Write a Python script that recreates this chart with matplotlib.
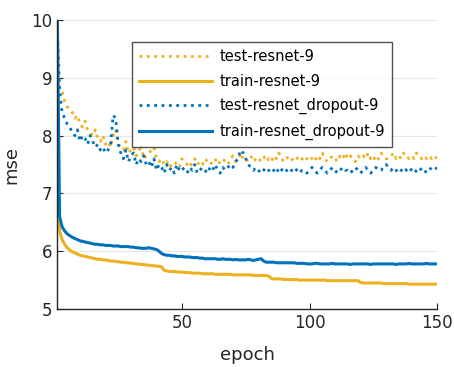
import numpy as np
import matplotlib.pyplot as plt

epochs = np.arange(1, 151)

test_resnet = [
    9.5, 8.8, 8.75, 8.6, 8.5, 8.45, 8.4, 8.3, 8.35, 8.2,
    8.15, 8.25, 8.1, 8.05, 8.0, 8.1, 7.95, 7.9, 8.0, 7.85,
    7.9, 7.8, 8.0, 8.1, 7.85, 7.8, 7.75, 7.9, 7.7, 7.75,
    7.8, 7.65, 7.7, 7.85, 7.6, 7.65, 7.7, 7.75, 7.8, 7.6,
    7.55, 7.6, 7.5, 7.55, 7.45, 7.5, 7.55, 7.5, 7.45, 7.6,
    7.55, 7.5, 7.45, 7.55, 7.6, 7.5, 7.55, 7.5, 7.6, 7.55,
    7.5, 7.55, 7.6, 7.5, 7.55, 7.6, 7.55, 7.5, 7.6, 7.65,
    7.55, 7.6, 7.7, 7.6, 7.55, 7.6, 7.65, 7.55, 7.6, 7.55,
    7.6, 7.65, 7.55, 7.6, 7.55, 7.65, 7.6, 7.7, 7.6, 7.55,
    7.6, 7.65, 7.6, 7.55, 7.6, 7.65, 7.6, 7.55, 7.6, 7.65,
    7.6, 7.55, 7.65, 7.6, 7.7, 7.6, 7.55, 7.6, 7.65, 7.6,
    7.55, 7.65, 7.6, 7.7, 7.6, 7.65, 7.6, 7.55, 7.65, 7.6,
    7.65, 7.6, 7.7, 7.6, 7.65, 7.55, 7.6, 7.7, 7.65, 7.6,
    7.6, 7.65, 7.7, 7.6, 7.65, 7.6, 7.7, 7.65, 7.6, 7.65,
    7.6, 7.7, 7.65, 7.6, 7.65, 7.6, 7.65, 7.6, 7.65, 7.6,
]

train_resnet = [
    6.9, 6.35, 6.2, 6.12, 6.06, 6.02, 5.99, 5.97, 5.95, 5.93,
    5.92, 5.91, 5.9, 5.89, 5.88, 5.87, 5.86, 5.86, 5.85, 5.85,
    5.84, 5.83, 5.83, 5.82, 5.82, 5.81, 5.81, 5.8, 5.8, 5.79,
    5.79, 5.78, 5.78, 5.77, 5.77, 5.76, 5.76, 5.75, 5.75, 5.74,
    5.74, 5.73, 5.67, 5.66, 5.65, 5.65, 5.65, 5.64, 5.64, 5.64,
    5.63, 5.63, 5.63, 5.62, 5.62, 5.62, 5.62, 5.61, 5.61, 5.61,
    5.61, 5.61, 5.6, 5.6, 5.6, 5.6, 5.6, 5.6, 5.6, 5.59,
    5.59, 5.59, 5.59, 5.59, 5.59, 5.59, 5.59, 5.58, 5.58, 5.58,
    5.58, 5.58, 5.58, 5.57, 5.53, 5.52, 5.52, 5.52, 5.52, 5.51,
    5.51, 5.51, 5.51, 5.51, 5.51, 5.5, 5.5, 5.5, 5.5, 5.5,
    5.5, 5.5, 5.5, 5.5, 5.5, 5.5, 5.49, 5.49, 5.49, 5.49,
    5.49, 5.49, 5.49, 5.49, 5.49, 5.49, 5.49, 5.49, 5.49, 5.46,
    5.45, 5.45, 5.45, 5.45, 5.45, 5.45, 5.45, 5.45, 5.44, 5.44,
    5.44, 5.44, 5.44, 5.44, 5.44, 5.44, 5.44, 5.44, 5.43, 5.43,
    5.43, 5.43, 5.43, 5.43, 5.43, 5.43, 5.43, 5.43, 5.43, 5.43,
]

test_dropout = [
    10.0, 8.8, 8.4, 8.3, 8.2, 8.15, 8.05, 8.0, 8.1, 7.9,
    8.0, 7.95, 7.85, 8.0, 7.9, 7.8, 7.85, 7.75, 7.8, 7.7,
    7.75, 7.85, 8.35, 8.3, 7.85, 7.7, 7.6, 7.75, 7.55, 7.65,
    7.7, 7.5, 7.6, 7.55, 7.65, 7.5, 7.55, 7.45, 7.6, 7.4,
    7.5, 7.45, 7.35, 7.5, 7.4, 7.45, 7.35, 7.5, 7.4, 7.45,
    7.4, 7.35, 7.45, 7.4, 7.5, 7.35, 7.4, 7.45, 7.4, 7.35,
    7.45, 7.4, 7.5, 7.4, 7.35, 7.45, 7.4, 7.45, 7.5, 7.45,
    7.55, 7.6, 7.75, 7.7, 7.6, 7.5, 7.45, 7.4, 7.45, 7.4,
    7.35, 7.4, 7.45, 7.4, 7.35, 7.4, 7.45, 7.35, 7.4, 7.45,
    7.4, 7.35, 7.4, 7.45, 7.4, 7.35, 7.4, 7.4, 7.35, 7.4,
    7.45, 7.4, 7.35, 7.4, 7.45, 7.4, 7.35, 7.4, 7.45, 7.4,
    7.35, 7.4, 7.45, 7.4, 7.4, 7.35, 7.4, 7.45, 7.4, 7.35,
    7.4, 7.45, 7.4, 7.35, 7.4, 7.45, 7.4, 7.4, 7.45, 7.5,
    7.45, 7.4, 7.45, 7.4, 7.35, 7.4, 7.45, 7.4, 7.45, 7.4,
    7.35, 7.4, 7.45, 7.4, 7.35, 7.4, 7.45, 7.4, 7.4, 7.45,
]

train_dropout = [
    10.5, 6.6, 6.42, 6.35, 6.3, 6.27, 6.24, 6.22, 6.2, 6.18,
    6.17, 6.16, 6.15, 6.14, 6.13, 6.12, 6.12, 6.11, 6.11, 6.1,
    6.1, 6.1, 6.09, 6.09, 6.09, 6.08, 6.08, 6.08, 6.08, 6.07,
    6.07, 6.06, 6.06, 6.05, 6.05, 6.05, 6.06, 6.05, 6.04, 6.03,
    6.0, 5.96, 5.94, 5.93, 5.93, 5.92, 5.92, 5.91, 5.91, 5.91,
    5.9, 5.9, 5.9, 5.89, 5.89, 5.89, 5.88, 5.88, 5.87, 5.87,
    5.87, 5.87, 5.87, 5.86, 5.86, 5.87, 5.86, 5.86, 5.86, 5.85,
    5.86, 5.85, 5.85, 5.85, 5.85, 5.86, 5.85, 5.84, 5.85, 5.86,
    5.87, 5.83, 5.81, 5.81, 5.81, 5.81, 5.8, 5.8, 5.8, 5.8,
    5.8, 5.8, 5.8, 5.8, 5.79, 5.79, 5.79, 5.79, 5.78, 5.78,
    5.78, 5.79, 5.79, 5.78, 5.78, 5.78, 5.78, 5.78, 5.79, 5.78,
    5.78, 5.78, 5.78, 5.78, 5.78, 5.77, 5.78, 5.78, 5.78, 5.78,
    5.78, 5.78, 5.78, 5.77, 5.78, 5.78, 5.78, 5.78, 5.78, 5.78,
    5.78, 5.78, 5.78, 5.77, 5.78, 5.78, 5.78, 5.78, 5.79, 5.78,
    5.78, 5.78, 5.78, 5.78, 5.78, 5.79, 5.78, 5.78, 5.78, 5.78,
]

yellow = '#EDB120'
blue = '#0072BD'

fig = plt.figure(figsize=(4.54, 3.67), dpi=100)
ax = fig.add_axes([0.1256, 0.158, 0.837, 0.7875])

ax.plot(epochs, test_resnet, ':', color=yellow, lw=2.0, label='test-resnet-9')
ax.plot(epochs, train_resnet, '-', color=yellow, lw=2.2, label='train-resnet-9')
ax.plot(epochs, test_dropout, ':', color=blue, lw=2.0, label='test-resnet_dropout-9')
ax.plot(epochs, train_dropout, '-', color=blue, lw=2.2, label='train-resnet_dropout-9')

ax.set_xlim(1, 150)
ax.set_ylim(5, 10)
ax.set_xticks([50, 100, 150])
ax.set_yticks([5, 6, 7, 8, 9, 10])
ax.grid(axis='y', color='#e6e6e6', lw=0.8)
ax.set_axisbelow(True)
ax.tick_params(direction='in', length=4, labelsize=12, colors='#262626')
ax.spines['top'].set_visible(False)
ax.spines['right'].set_visible(False)
for s in ['left', 'bottom']:
    ax.spines[s].set_color('#262626')
    ax.spines[s].set_linewidth(1.0)

ax.set_xlabel('epoch', fontsize=13, color='#262626', labelpad=10)
ax.set_ylabel('mse', fontsize=13, color='#262626', labelpad=8)

leg = ax.legend(loc='upper left', bbox_to_anchor=(0.197, 0.924), fontsize=10.5,
                frameon=True, fancybox=False, edgecolor='#262626',
                handlelength=5.0, borderpad=0.5, labelspacing=0.65,
                handletextpad=0.5, borderaxespad=0)
leg.get_frame().set_linewidth(1.0)

plt.savefig('out.png', dpi=100)
